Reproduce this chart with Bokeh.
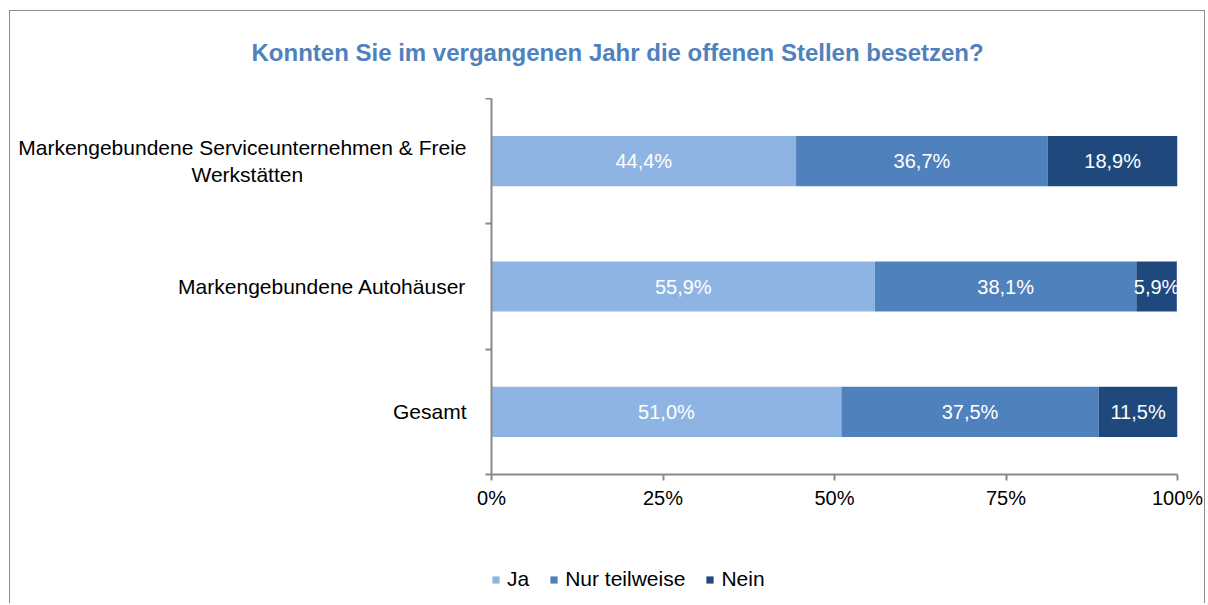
from bokeh.plotting import figure
from bokeh.layouts import column
from bokeh.models import ColumnDataSource, FixedTicker, Label, Range1d
from bokeh.embed import file_html
from bokeh.resources import INLINE

categories = ["Markengebundene Serviceunternehmen & Freie\nWerkstätten",
              "Markengebundene Autohäuser",
              "Gesamt"]
series = ["Ja", "Nur teilweise", "Nein"]
ja = [44.4, 55.9, 51.0]
teil = [36.7, 38.1, 37.5]
nein = [18.9, 5.9, 11.5]
colors = ["#8EB4E3", "#4F81BD", "#1F497D"]
x_ticks = [0, 25, 50, 75, 100]
title_text = "Konnten Sie im vergangenen Jahr die offenen Stellen besetzen?"

FONT = "Liberation Sans"
GRAY = "#898989"
W = 1194

n = len(categories)
ypos = [n - i - 0.5 for i in range(n)]
src = ColumnDataSource(dict(y=ypos, Ja=ja, Teil=teil, Nein=nein))

# ---- title strip (title sits in its side panel, frame aligned with the chart below)
t = figure(width=W, height=87, output_backend="svg", toolbar_location=None,
           x_axis_location=None, y_axis_location=None,
           x_range=Range1d(0, 100), y_range=Range1d(0, 1),
           min_border_left=481, min_border_right=27, min_border_top=0, min_border_bottom=0)
t.outline_line_color = None
t.xgrid.visible = False
t.ygrid.visible = False
t.title.text = title_text
t.title.align = "left"
t.title.offset = -240
t.title.standoff = 51
t.title.text_font = FONT
t.title.text_font_size = "24px"
t.title.text_font_style = "bold"
t.title.text_color = "#4F81BD"

# ---- main chart
p = figure(width=W, height=453, output_backend="svg", toolbar_location=None,
           x_range=Range1d(0, 100), y_range=Range1d(0, n),
           min_border_left=481, min_border_right=27, min_border_top=0, min_border_bottom=77)
p.outline_line_color = None
p.xgrid.visible = False
p.ygrid.visible = False

p.hbar_stack(["Ja", "Teil", "Nein"], y="y", height=0.4, color=colors,
             line_color=None, source=src)

cum = [0.0] * n
for vals in (ja, teil, nein):
    for i, v in enumerate(vals):
        p.add_layout(Label(x=cum[i] + v / 2, y=ypos[i], text=f"{v:.1f}%".replace(".", ","),
                           text_color="white", text_font=FONT, text_font_size="20px",
                           text_align="center", text_baseline="middle"))
        cum[i] += v

xa = p.xaxis[0]
xa.ticker = FixedTicker(ticks=x_ticks)
xa.major_label_overrides = {t_: f"{t_}%" for t_ in x_ticks}
xa.axis_line_color = GRAY
xa.axis_line_width = 2
xa.major_tick_line_color = GRAY
xa.major_tick_line_width = 2
xa.major_tick_out = 6
xa.major_tick_in = 0
xa.minor_tick_line_color = None
xa.major_label_text_font = FONT
xa.major_label_text_font_size = "20px"
xa.major_label_text_color = "black"
xa.major_label_standoff = 6


def pad(label):
    # second line centred under the first (axis labels are right-aligned)
    if "\n" in label:
        first, second = label.split("\n")
        return first + "\n" + second + "\u00a0" * 28
    return label


ya = p.yaxis[0]
ya.ticker = FixedTicker(ticks=ypos, minor_ticks=list(range(n + 1)))
ya.major_label_overrides = {y: pad(c) for y, c in zip(ypos, categories)}
ya.axis_line_color = GRAY
ya.axis_line_width = 2
ya.minor_tick_line_color = GRAY
ya.minor_tick_line_width = 2
ya.minor_tick_out = 6
ya.minor_tick_in = 0
ya.major_tick_line_color = None
ya.major_tick_out = 0
ya.major_tick_in = 0
ya.major_label_standoff = 19
ya.major_label_text_font = FONT
ya.major_label_text_font_size = "21px"
ya.major_label_text_color = "black"
ya.major_label_text_line_height = 1.2

# ---- legend strip (bars drawn outside its visible range, only the legend shows)
q = figure(width=W, height=52, output_backend="svg", toolbar_location=None,
           x_axis_location=None, y_axis_location=None,
           x_range=Range1d(0, 100), y_range=Range1d(10, 11),
           min_border_left=481, min_border_right=27, min_border_top=0, min_border_bottom=0)
q.outline_line_color = None
q.xgrid.visible = False
q.ygrid.visible = False
q.hbar_stack(["Ja", "Teil", "Nein"], y="y", height=0.4, color=colors,
             line_color=None, source=src, legend_label=series)
lg = q.legend[0]
lg.orientation = "horizontal"
lg.location = (0, 12)
lg.border_line_color = None
lg.background_fill_alpha = 0
lg.padding = 0
lg.margin = 0
lg.spacing = 20
lg.glyph_width = 9
lg.glyph_height = 9
lg.label_standoff = 7
lg.label_text_font = FONT
lg.label_text_font_size = "21px"
lg.label_text_color = "black"

layout = column(t, p, q, spacing=0)
layout.styles = {"border": "1px solid #8c8c8c", "border-bottom": "none",
                 "position": "relative", "left": "9px", "top": "10px"}

open("out.html", "w").write(file_html(layout, INLINE))
